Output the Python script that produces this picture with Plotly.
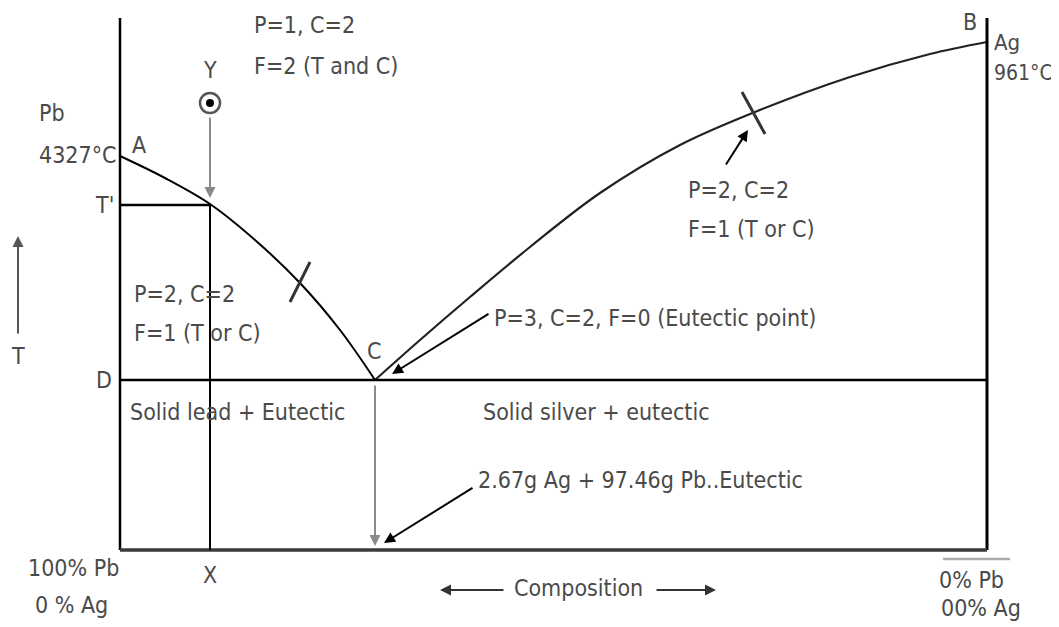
import plotly.graph_objects as go

# Phase diagram drawn in a page-sized coordinate frame (x right, y down)
FONT = "Liberation Sans Narrow, DejaVu Sans Condensed, Arial Narrow, sans-serif"
TXT = "#4a4a4a"
PAGE_PAD = 8  # browser body margin

# frame lines
axis_left_x = 120
axis_right_x = 987
axis_top_y = 18
axis_bottom_y = 550
eutectic_y = 380
t_prime_y = 205
x_comp = 210

# liquidus curves
curve_ac_x = [120, 165, 210, 255, 300, 340, 375]
curve_ac_y = [156, 178, 204, 240, 283, 330, 380]
curve_cb_x = [375, 420, 470, 530, 600, 680, 755, 850, 930, 987]
curve_cb_y = [380, 340, 297, 247, 193, 145, 112, 77, 54, 42]

# cross ticks on the curves
tick_marks = [((290, 302), (310, 262)), ((742, 92), (765, 134))]

# labels: (text, x, y, anchor, size)
labels = [
    ("P=1, C=2", 252, 25, "left", 23),
    ("F=2 (T and C)", 252, 66, "left", 23),
    ("Y", 210, 70, "center", 23),
    ("Pb", 37, 113, "left", 23),
    ("4327°C", 37, 155, "left", 23),
    ("A", 130, 145, "left", 23),
    ("T'", 93, 205, "left", 23),
    ("T", 18, 356, "center", 23),
    ("P=2, C=2", 132, 294, "left", 23),
    ("F=1 (T or C)", 132, 333, "left", 23),
    ("C", 365, 351, "left", 23),
    ("D", 94, 380, "left", 23),
    ("Solid lead + Eutectic", 128, 412, "left", 23),
    ("Solid silver + eutectic", 481, 412, "left", 23),
    ("2.67g Ag + 97.46g Pb..Eutectic", 476, 480, "left", 23),
    ("P=3, C=2, F=0 (Eutectic point)", 492, 318, "left", 23),
    ("P=2, C=2", 686, 190, "left", 23),
    ("F=1 (T or C)", 686, 229, "left", 23),
    ("B", 961, 22, "left", 23),
    ("Ag", 992, 42, "left", 22),
    ("961°C", 992, 73, "left", 21),
    ("100% Pb", 26, 568, "left", 23),
    ("0 % Ag", 33, 605, "left", 23),
    ("X", 210, 575, "center", 23),
    ("Composition", 578, 588, "center", 23),
    ("0% Pb", 937, 580, "left", 23),
    ("00% Ag", 939, 608, "left", 23),
]

# arrows: (tail x, tail y, head x, head y, colour)
arrows = [
    (210, 116, 210, 198, "#8a8a8a"),
    (375, 384, 375, 546, "#8a8a8a"),
    (490, 313, 392, 374, "black"),
    (725, 166, 748, 130, "black"),
    (474, 487, 384, 543, "black"),
    (18, 335, 18, 236, "#555555"),
    (505, 590, 440, 590, "#333333"),
    (655, 590, 716, 590, "#333333"),
]

fig = go.Figure()

line_k = dict(color="black", width=2.5)
fig.add_trace(go.Scatter(x=curve_ac_x, y=curve_ac_y, mode="lines",
                         line=dict(color="black", width=2, shape="spline")))
fig.add_trace(go.Scatter(x=curve_cb_x, y=curve_cb_y, mode="lines",
                         line=dict(color="#222222", width=2.2, shape="spline")))

shapes = [
    dict(type="line", x0=axis_left_x, y0=axis_top_y, x1=axis_left_x, y1=axis_bottom_y, line=line_k),
    dict(type="line", x0=axis_right_x, y0=axis_top_y, x1=axis_right_x, y1=axis_bottom_y, line=dict(color="black", width=3)),
    dict(type="line", x0=axis_left_x, y0=axis_bottom_y, x1=axis_right_x, y1=axis_bottom_y, line=dict(color="#3a3a3a", width=3.5)),
    dict(type="line", x0=axis_left_x, y0=eutectic_y, x1=axis_right_x, y1=eutectic_y, line=line_k),
    dict(type="line", x0=axis_left_x, y0=t_prime_y, x1=x_comp, y1=t_prime_y, line=line_k),
    dict(type="line", x0=x_comp, y0=t_prime_y, x1=x_comp, y1=axis_bottom_y, line=dict(color="black", width=2)),
    dict(type="line", x0=943, y0=559, x1=1010, y1=559, line=dict(color="#aaaaaa", width=2.5)),
    dict(type="circle", x0=200, y0=93, x1=220, y1=113, line=dict(color="#555555", width=2.5)),
    dict(type="circle", x0=206, y0=99, x1=214, y1=107, fillcolor="black", line=dict(color="black", width=0)),
]
for (a, b) in tick_marks:
    shapes.append(dict(type="line", x0=a[0], y0=a[1], x1=b[0], y1=b[1],
                       line=dict(color="#333333", width=3)))

annotations = []
for text, x, y, anchor, size in labels:
    annotations.append(dict(x=x, y=y, text=text, showarrow=False, xanchor=anchor, yanchor="middle",
                            font=dict(family=FONT, size=size, color=TXT)))
for x0, y0, x1, y1, col in arrows:
    annotations.append(dict(x=x1, y=y1, ax=x0, ay=y0, axref="x", ayref="y", text="",
                            showarrow=True, arrowhead=2, arrowsize=1.1, arrowwidth=2,
                            arrowcolor=col, standoff=0))

fig.update_layout(
    width=1059 - PAGE_PAD, height=627 - PAGE_PAD,
    margin=dict(l=0, r=0, t=0, b=0),
    plot_bgcolor="white", paper_bgcolor="white",
    showlegend=False,
    shapes=shapes, annotations=annotations,
    xaxis=dict(range=[PAGE_PAD, 1059], visible=False, fixedrange=True),
    yaxis=dict(range=[627, PAGE_PAD], visible=False, fixedrange=True),
)

fig.write_html("out.html")
